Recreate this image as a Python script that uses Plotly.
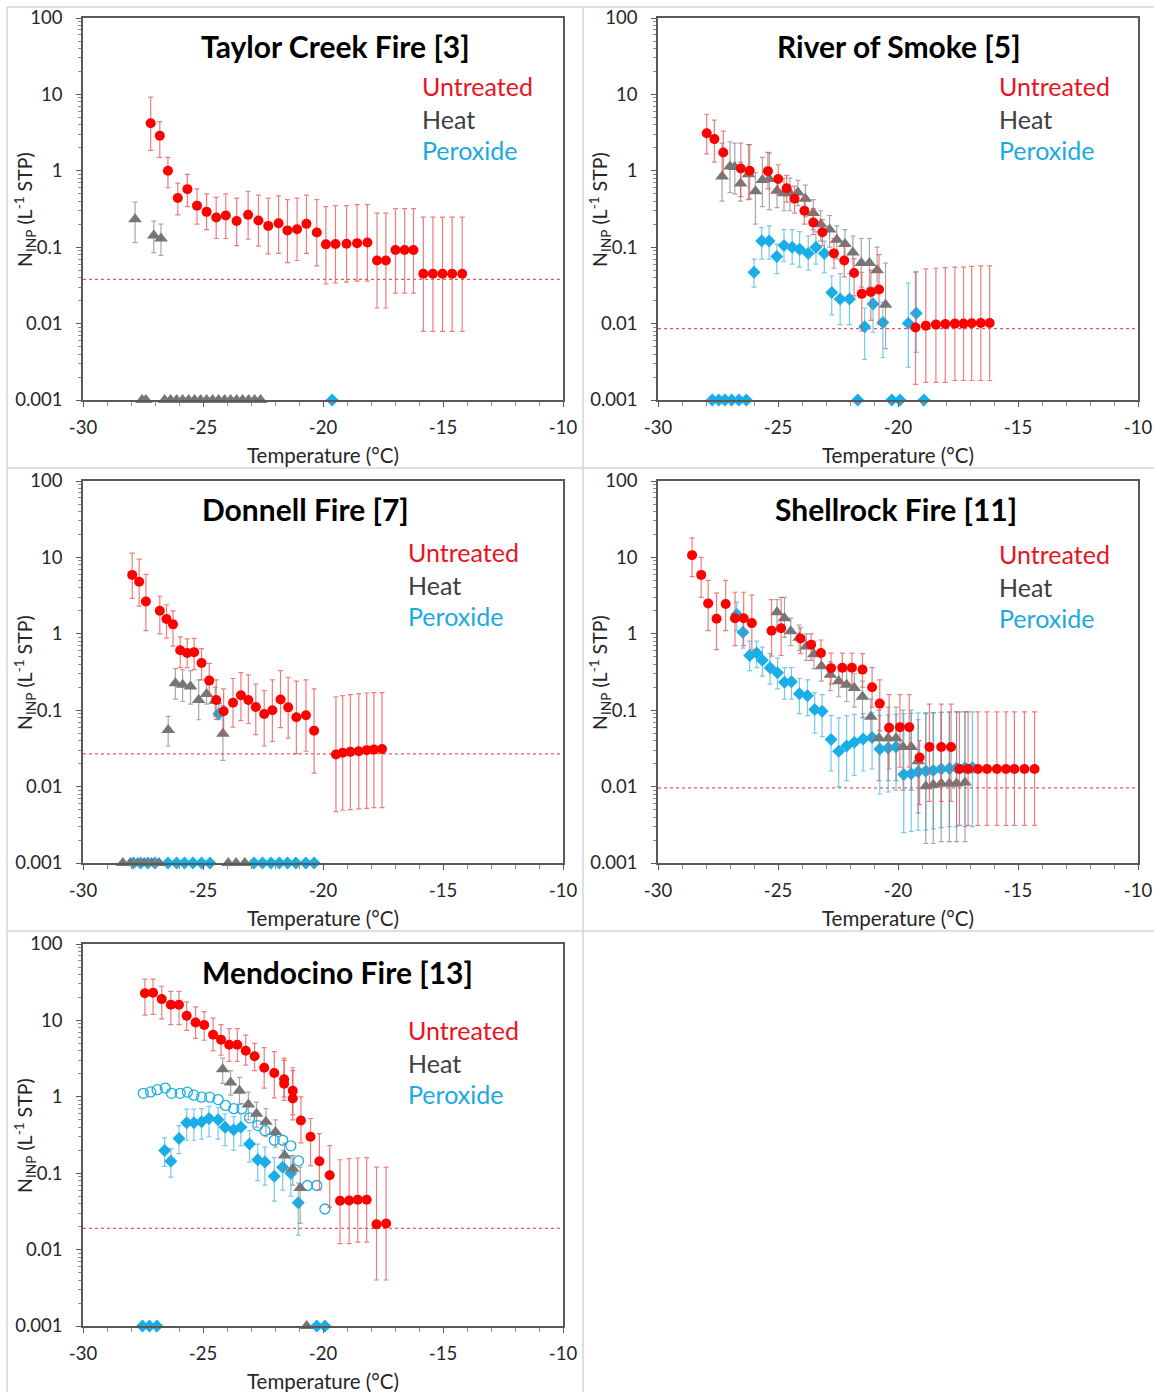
import plotly.graph_objects as go

# ---------------------------------------------------------------
# Ice-nucleating particle spectra, five fires
# N_INP (per standard litre) vs. temperature (deg C)
# ---------------------------------------------------------------

ND_LEVEL = 0.001          # non-detects plotted on the axis floor
X_MIN, X_MAX = -30, -10

# ---- Taylor Creek Fire [3] ----
tc_red_t = [-27.18, -26.8, -26.46, -26.05, -25.65, -25.25, -24.85, -24.45, -24.05, -23.6, -23.12,
            -22.69, -22.28, -21.85, -21.48, -21.08, -20.69, -20.26, -19.88, -19.48, -19.02, -18.58,
            -18.15, -17.75, -17.38, -16.98, -16.6, -16.23, -15.82, -15.42, -15.02, -14.62, -14.2]
tc_red_n = [4.2, 2.88, 1.0, 0.44, 0.575, 0.35, 0.29, 0.245, 0.26, 0.22, 0.265, 0.224, 0.19, 0.206,
            0.166, 0.172, 0.202, 0.156, 0.109, 0.11, 0.111, 0.113, 0.115, 0.067, 0.067, 0.092, 0.092,
            0.092, 0.045, 0.045, 0.045, 0.045, 0.045]
tc_red_hi = [9.2, 4.4, 1.5, 0.69, 0.9, 0.58, 0.5, 0.45, 0.5, 0.44, 0.54, 0.48, 0.44, 0.47, 0.42, 0.44,
             0.48, 0.42, 0.34, 0.35, 0.35, 0.36, 0.36, 0.28, 0.28, 0.32, 0.32, 0.32, 0.247, 0.247,
             0.247, 0.247, 0.247]
tc_red_lo = [1.85, 1.5, 0.6, 0.265, 0.34, 0.2, 0.17, 0.13, 0.13, 0.105, 0.127, 0.103, 0.082, 0.083,
             0.063, 0.067, 0.083, 0.057, 0.033, 0.034, 0.035, 0.036, 0.036, 0.016, 0.016, 0.025,
             0.025, 0.025, 0.0079, 0.0079, 0.0079, 0.0079, 0.0079]
tc_heat_t = [-27.83, -27.05, -26.75]
tc_heat_n = [0.233, 0.142, 0.13]
tc_heat_hi = [0.39, 0.22, 0.2]
tc_heat_lo = [0.115, 0.085, 0.078]
tc_heat_nd = [-27.54, -27.38, -26.6, -26.35, -26.1, -25.85, -25.6, -25.35, -25.1, -24.85, -24.6,
              -24.35, -24.1, -23.85, -23.6, -23.35, -23.1, -22.85, -22.6]
tc_perox_nd = [-19.62]
tc_limit = 0.038

# ---- River of Smoke [5] ----
rs_red_t = [-27.97, -27.65, -27.28, -26.55, -26.18, -25.42, -24.99, -24.64, -24.31, -23.9, -23.53,
            -23.15, -22.67, -22.24, -21.83, -21.51, -21.13, -20.79, -19.27, -18.84, -18.42, -18.03,
            -17.63, -17.27, -16.93, -16.55, -16.18]
rs_red_n = [3.1, 2.6, 1.74, 1.07, 1.0, 0.99, 0.78, 0.59, 0.43, 0.3, 0.21, 0.157, 0.083, 0.067, 0.046,
            0.0245, 0.026, 0.028, 0.0089, 0.0094, 0.0097, 0.0099, 0.01, 0.01, 0.0101, 0.0102, 0.0102]
rs_red_hi = [5.5, 4.6, 3.3, 2.3, 2.2, 1.74, 1.2, 0.87, 0.63, 0.46, 0.32, 0.23, 0.13, 0.106, 0.071,
             0.047, 0.05, 0.08, 0.047, 0.052, 0.053, 0.054, 0.055, 0.055, 0.056, 0.057, 0.057]
rs_red_lo = [1.67, 1.3, 0.85, 0.46, 0.43, 0.58, 0.5, 0.39, 0.28, 0.2, 0.146, 0.105, 0.053, 0.041,
             0.023, 0.008, 0.011, 0.0098, 0.0016, 0.0017, 0.0017, 0.0017, 0.0018, 0.0018, 0.0018,
             0.0018, 0.0018]
rs_heat_t = [-27.33, -27.0, -26.8, -26.56, -26.23, -25.94, -25.65, -25.36, -25.04, -24.75, -24.5,
             -24.17, -23.86, -23.53, -23.22, -22.85, -22.55, -22.21, -21.88, -21.53, -21.19, -20.87,
             -20.52]
rs_heat_n = [0.84, 1.14, 1.12, 0.68, 0.9, 0.54, 0.76, 0.78, 0.55, 0.51, 0.51, 0.52, 0.43, 0.28, 0.2,
             0.17, 0.125, 0.11, 0.085, 0.062, 0.062, 0.05, 0.0176]
rs_heat_hi = [2.3, 2.4, 2.3, 1.3, 2.2, 0.95, 1.5, 1.7, 0.86, 0.8, 0.8, 0.75, 0.65, 0.42, 0.3, 0.26,
              0.19, 0.17, 0.14, 0.13, 0.13, 0.1, 0.062]
rs_heat_lo = [0.4, 0.52, 0.5, 0.4, 0.42, 0.2, 0.34, 0.31, 0.33, 0.3, 0.3, 0.35, 0.25, 0.17, 0.12,
              0.1, 0.07, 0.06, 0.045, 0.03, 0.03, 0.025, 0.0047]
rs_perox_t = [-26.0, -25.68, -25.37, -25.05, -24.75, -24.41, -24.1, -23.74, -23.42, -23.07, -22.76,
              -22.41, -22.02, -21.39, -21.04, -20.63, -19.57, -19.24]
rs_perox_n = [0.047, 0.121, 0.121, 0.0755, 0.105, 0.1, 0.094, 0.083, 0.1, 0.083, 0.0255, 0.021,
              0.021, 0.0091, 0.018, 0.0103, 0.0101, 0.0137]
rs_perox_hi = [0.07, 0.18, 0.19, 0.11, 0.17, 0.17, 0.16, 0.14, 0.16, 0.12, 0.042, 0.045, 0.045,
               0.016, 0.03, 0.019, 0.034, 0.048]
rs_perox_lo = [0.03, 0.07, 0.07, 0.045, 0.065, 0.06, 0.055, 0.05, 0.06, 0.046, 0.013, 0.0097,
               0.0097, 0.0034, 0.0077, 0.0036, 0.0027, 0.0042]
rs_perox_nd = [-27.74, -27.47, -27.21, -26.93, -26.63, -26.32, -21.68, -20.26, -19.92, -18.92]
rs_limit = 0.0086

# ---- Donnell Fire [7] ----
dn_red_t = [-27.95, -27.66, -27.38, -26.8, -26.52, -26.25, -25.95, -25.66, -25.37, -25.06, -24.74,
            -24.45, -24.14, -23.75, -23.42, -23.11, -22.8, -22.45, -22.11, -21.77, -21.45, -21.11,
            -20.71, -20.37, -19.46, -19.18, -18.86, -18.51, -18.18, -17.88, -17.54]
dn_red_n = [5.9, 4.8, 2.65, 2.0, 1.56, 1.33, 0.61, 0.56, 0.575, 0.415, 0.244, 0.136, 0.097, 0.125,
            0.157, 0.136, 0.11, 0.089, 0.1, 0.138, 0.109, 0.081, 0.086, 0.054, 0.0263, 0.0277,
            0.0285, 0.029, 0.03, 0.0305, 0.031]
dn_red_hi = [11.4, 9.5, 6.0, 3.1, 2.4, 2.0, 0.91, 0.86, 0.87, 0.64, 0.41, 0.25, 0.19, 0.26, 0.31,
             0.29, 0.22, 0.18, 0.25, 0.33, 0.27, 0.24, 0.25, 0.19, 0.15, 0.155, 0.16, 0.165, 0.168,
             0.17, 0.17]
dn_red_lo = [2.9, 2.3, 1.1, 1.0, 0.88, 0.69, 0.36, 0.36, 0.34, 0.25, 0.16, 0.076, 0.05, 0.06, 0.073,
             0.067, 0.048, 0.034, 0.039, 0.059, 0.043, 0.027, 0.029, 0.015, 0.0047, 0.0049, 0.005,
             0.0051, 0.0052, 0.0053, 0.0053]
dn_heat_t = [-26.45, -26.15, -25.85, -25.52, -25.18, -24.85, -24.49, -24.17]
dn_heat_n = [0.055, 0.225, 0.215, 0.205, 0.136, 0.163, 0.133, 0.049]
dn_heat_hi = [0.083, 0.35, 0.34, 0.33, 0.25, 0.26, 0.2, 0.115]
dn_heat_lo = [0.034, 0.14, 0.13, 0.12, 0.075, 0.12, 0.083, 0.022]
dn_heat_nd = [-28.34, -28.03, -27.72, -27.45, -27.14, -26.83, -23.95, -23.62, -23.26]
dn_perox_t = [-24.34]
dn_perox_n = [0.09]
dn_perox_hi = [0.12]
dn_perox_lo = [0.075]
dn_perox_nd = [-27.9, -27.6, -27.3, -27.0, -26.46, -26.1, -25.77, -25.42, -25.06, -24.71, -22.88,
               -22.52, -22.17, -21.82, -21.48, -21.13, -20.72, -20.37]
dn_limit = 0.0268

# ---- Shellrock Fire [11] ----
sr_red_t = [-28.58, -28.2, -27.91, -27.56, -27.18, -26.79, -26.43, -26.09, -25.27, -24.87, -24.06,
            -23.62, -23.21, -22.79, -22.32, -21.92, -21.48, -21.08, -20.76, -20.37, -19.92, -19.53,
            -19.1, -18.69, -18.2, -17.79, -17.44, -17.08, -16.67, -16.29, -15.88, -15.5, -15.15,
            -14.73, -14.31]
sr_red_n = [10.7, 5.9, 2.5, 1.57, 2.45, 1.6, 1.6, 1.38, 1.1, 1.18, 0.87, 0.72, 0.56, 0.355, 0.36,
            0.36, 0.34, 0.2, 0.122, 0.059, 0.06, 0.06, 0.024, 0.033, 0.033, 0.033, 0.017, 0.017,
            0.017, 0.017, 0.017, 0.017, 0.017, 0.017, 0.017]
sr_red_hi = [18, 10, 5, 3.4, 5, 3.5, 3.5, 3.2, 2.8, 3.0, 1.2, 1.0, 0.83, 0.56, 0.56, 0.56, 0.55,
             0.36, 0.25, 0.16, 0.16, 0.16, 0.04, 0.12, 0.12, 0.12, 0.095, 0.095, 0.095, 0.095,
             0.095, 0.095, 0.095, 0.095, 0.095]
sr_red_lo = [5.6, 3.0, 1.1, 0.62, 1.1, 0.7, 0.7, 0.62, 0.51, 0.52, 0.55, 0.45, 0.38, 0.22, 0.22,
             0.22, 0.2, 0.11, 0.054, 0.017, 0.018, 0.018, 0.0058, 0.0064, 0.0064, 0.0064, 0.0031,
             0.0031, 0.0031, 0.0031, 0.0031, 0.0031, 0.0031, 0.0031, 0.0031]
sr_heat_t = [-25.04, -24.73, -24.47, -24.12, -23.82, -23.5, -23.19, -22.82, -22.47, -22.14, -21.82,
             -21.48, -21.13, -20.79, -20.41, -20.08, -19.79, -19.45, -19.16, -18.84, -18.53, -18.2,
             -17.86, -17.56, -17.21]
sr_heat_n = [1.92, 1.6, 1.08, 0.89, 0.68, 0.54, 0.377, 0.29, 0.24, 0.215, 0.195, 0.15, 0.082, 0.043,
             0.043, 0.043, 0.033, 0.033, 0.0215, 0.0101, 0.0106, 0.011, 0.011, 0.011, 0.0113]
sr_heat_hi = [2.8, 3.0, 1.6, 1.3, 1.0, 0.8, 0.55, 0.43, 0.37, 0.33, 0.3, 0.24, 0.14, 0.1, 0.11, 0.11,
              0.1, 0.1, 0.075, 0.09, 0.092, 0.094, 0.095, 0.095, 0.096]
sr_heat_lo = [1.1, 0.9, 0.7, 0.6, 0.45, 0.35, 0.24, 0.18, 0.15, 0.13, 0.11, 0.08, 0.04, 0.012, 0.012,
              0.012, 0.009, 0.009, 0.0045, 0.0018, 0.0018, 0.0019, 0.0019, 0.0019, 0.0019]
sr_perox_t = [-26.72, -26.46, -26.18, -25.89, -25.65, -25.33, -25.02, -24.73, -24.44, -24.11, -23.77,
              -23.47, -23.16, -22.79, -22.47, -22.14, -21.82, -21.45, -21.08, -20.76, -20.41, -20.08,
              -19.76, -19.45, -19.16, -18.84, -18.53, -18.2, -17.86, -17.56, -17.21, -16.9]
sr_perox_n = [1.79, 1.05, 0.52, 0.56, 0.45, 0.36, 0.31, 0.233, 0.235, 0.164, 0.155, 0.102, 0.097,
              0.0413, 0.029, 0.034, 0.038, 0.042, 0.044, 0.031, 0.032, 0.033, 0.0144, 0.0147, 0.0156,
              0.016, 0.0163, 0.017, 0.0172, 0.0175, 0.0177, 0.0177]
sr_perox_hi = [2.6, 1.6, 0.8, 0.8, 0.67, 0.55, 0.48, 0.36, 0.36, 0.26, 0.25, 0.17, 0.16, 0.085, 0.08,
               0.085, 0.088, 0.09, 0.092, 0.085, 0.086, 0.088, 0.09, 0.091, 0.092, 0.093, 0.093,
               0.094, 0.094, 0.095, 0.095, 0.095]
sr_perox_lo = [1.1, 0.65, 0.33, 0.36, 0.28, 0.22, 0.19, 0.14, 0.14, 0.09, 0.085, 0.05, 0.045, 0.016,
               0.01, 0.012, 0.014, 0.016, 0.017, 0.008, 0.0085, 0.009, 0.0025, 0.0026, 0.0027,
               0.0027, 0.0028, 0.0029, 0.003, 0.003, 0.003, 0.003]
sr_limit = 0.0096

# ---- Mendocino Fire [13] ----
mf_red_t = [-27.42, -27.08, -26.72, -26.34, -26.0, -25.68, -25.31, -24.95, -24.58, -24.25, -23.91,
            -23.57, -23.22, -22.85, -22.45, -22.03, -21.62, -21.62, -21.26, -21.26, -20.92, -20.52,
            -20.15, -19.72, -19.29, -18.91, -18.55, -18.18, -17.77, -17.37]
mf_red_n = [22.7, 23, 19, 16, 16, 11.5, 9.4, 8.7, 6.5, 5.6, 4.8, 4.8, 4.0, 3.4, 2.4, 2.05, 1.7, 1.48,
            1.2, 0.95, 0.49, 0.3, 0.143, 0.094, 0.0437, 0.044, 0.045, 0.045, 0.0214, 0.022]
mf_red_hi = [34.6, 34.6, 28, 24, 24, 17.5, 15, 13, 10.7, 8.8, 7.8, 7.8, 6.4, 5, 4.4, 3.9, 3.2, 3.0,
             2.4, 2.2, 1.0, 0.52, 0.33, 0.23, 0.15, 0.155, 0.158, 0.16, 0.12, 0.12]
mf_red_lo = [11.7, 12, 10.5, 8.8, 8.8, 7.4, 5.8, 5.5, 4, 3.5, 2.9, 2.9, 2.6, 2.2, 1.3, 0.97, 1.0, 0.9,
             0.58, 0.5, 0.25, 0.125, 0.06, 0.036, 0.012, 0.012, 0.0125, 0.0125, 0.004, 0.004]
mf_heat_t = [-24.18, -23.85, -23.48, -23.11, -22.77, -22.38, -21.98, -21.6, -21.26, -20.95]
mf_heat_n = [2.3, 1.54, 1.2, 0.79, 0.6, 0.47, 0.345, 0.17, 0.114, 0.064]
mf_heat_hi = [3.2, 2.2, 1.8, 1.15, 0.85, 0.7, 0.5, 0.25, 0.17, 0.12]
mf_heat_lo = [1.5, 1.05, 0.8, 0.5, 0.4, 0.3, 0.22, 0.11, 0.07, 0.022]
mf_heat_nd = [-20.68]
mf_perox_t = [-26.6, -26.34, -26.0, -25.68, -25.38, -25.06, -24.75, -24.37, -24.08, -23.72, -23.42,
              -23.06, -22.72, -22.42, -22.03, -21.68, -21.34, -21.03]
mf_perox_n = [0.198, 0.143, 0.285, 0.457, 0.457, 0.47, 0.52, 0.5, 0.4, 0.37, 0.4, 0.242, 0.15, 0.14,
              0.091, 0.12, 0.1, 0.041]
mf_perox_hi = [0.29, 0.21, 0.42, 0.69, 0.69, 0.7, 0.75, 0.73, 0.6, 0.55, 0.6, 0.36, 0.24, 0.22, 0.16,
               0.2, 0.17, 0.074]
mf_perox_lo = [0.123, 0.089, 0.18, 0.27, 0.27, 0.28, 0.3, 0.28, 0.23, 0.2, 0.23, 0.14, 0.08, 0.07,
               0.043, 0.06, 0.05, 0.0155]
mf_perox_nd = [-27.52, -27.23, -26.92, -20.26, -19.92]
mf_open_t = [-27.49, -27.18, -26.91, -26.57, -26.31, -25.95, -25.65, -25.38, -25.06, -24.72, -24.37,
             -24.06, -23.72, -23.38, -23.06, -22.72, -22.42, -22.03, -21.68, -21.34, -21.02, -20.65,
             -20.26, -19.92]
mf_open_n = [1.11, 1.16, 1.24, 1.3, 1.11, 1.11, 1.15, 1.05, 0.99, 0.99, 0.92, 0.77, 0.7, 0.7, 0.53,
             0.42, 0.36, 0.27, 0.27, 0.228, 0.145, 0.069, 0.069, 0.034]
mf_limit = 0.019

# ---- tick labels ----
x_tick_vals = [-30, -25, -20, -15, -10]
x_tick_text = ["-30", "-25", "-20", "-15", "-10"]
y_tick_vals = [0.001, 0.01, 0.1, 1, 10, 100]
y_tick_text = ["0.001", "0.01", "0.1", "1", "10", "100"]

# ---------------------------------------------------------------
# styling
# ---------------------------------------------------------------
FONT = "Lato, 'Open Sans', sans-serif"
RED, RED_ERR = "#ff0000", "rgba(235,80,80,0.75)"
GRAY, GRAY_ERR = "#767676", "rgba(130,130,130,0.7)"
BLUE, BLUE_ERR = "#1aaee8", "rgba(60,180,230,0.7)"
LEG_RED, LEG_GRAY, LEG_BLUE = "#e8141f", "#404040", "#1aa9e0"
SZ_CIRCLE, SZ_TRI, SZ_DIAM = 10, 12, 10

W, H = 1154, 1392


def px_x(v):
    return min(max(v / W, 0), 1)


def px_y(v):
    return min(max(1 - v / H, 0), 1)


# plot areas in pixels: (left, right, top, bottom)
cells = [
    (83, 563, 18, 400),
    (658, 1138, 18, 400),
    (83, 563, 481, 863),
    (658, 1138, 481, 863),
    (83, 563, 944, 1326),
]

panels = [
    dict(title="Taylor Creek Fire [3]", tx=0.527,
         red=(tc_red_t, tc_red_n, tc_red_hi, tc_red_lo),
         heat=(tc_heat_t, tc_heat_n, tc_heat_hi, tc_heat_lo), heat_nd=tc_heat_nd,
         perox=None, perox_nd=tc_perox_nd, limit=tc_limit, lx=0.702, ly=(0.822, 0.736, 0.654)),
    dict(title="River of Smoke [5]", tx=0.502,
         red=(rs_red_t, rs_red_n, rs_red_hi, rs_red_lo),
         heat=(rs_heat_t, rs_heat_n, rs_heat_hi, rs_heat_lo), heat_nd=[],
         perox=(rs_perox_t, rs_perox_n, rs_perox_hi, rs_perox_lo), perox_nd=rs_perox_nd,
         limit=rs_limit, lx=0.706, ly=(0.822, 0.736, 0.654)),
    dict(title="Donnell Fire [7]", tx=0.4625,
         red=(dn_red_t, dn_red_n, dn_red_hi, dn_red_lo),
         heat=(dn_heat_t, dn_heat_n, dn_heat_hi, dn_heat_lo), heat_nd=dn_heat_nd,
         perox=(dn_perox_t, dn_perox_n, dn_perox_hi, dn_perox_lo), perox_nd=dn_perox_nd,
         limit=dn_limit, lx=0.673, ly=(0.814, 0.728, 0.647)),
    dict(title="Shellrock Fire [11]", tx=0.496,
         red=(sr_red_t, sr_red_n, sr_red_hi, sr_red_lo),
         heat=(sr_heat_t, sr_heat_n, sr_heat_hi, sr_heat_lo), heat_nd=[],
         perox=(sr_perox_t, sr_perox_n, sr_perox_hi, sr_perox_lo), perox_nd=[],
         limit=sr_limit, lx=0.706, ly=(0.809, 0.723, 0.641)),
    dict(title="Mendocino Fire [13]", tx=0.531,
         red=(mf_red_t, mf_red_n, mf_red_hi, mf_red_lo),
         heat=(mf_heat_t, mf_heat_n, mf_heat_hi, mf_heat_lo), heat_nd=mf_heat_nd,
         perox=(mf_perox_t, mf_perox_n, mf_perox_hi, mf_perox_lo), perox_nd=mf_perox_nd,
         limit=mf_limit, lx=0.673, ly=(0.775, 0.689, 0.607),
         open=(mf_open_t, mf_open_n)),
]

minor_x = [v for v in range(-29, -10) if v % 5 != 0]
minor_y = [k * 10.0 ** d for d in range(-3, 2) for k in range(2, 10)]

fig = go.Figure()
layout = dict(
    width=W, height=H, margin=dict(l=0, r=0, t=0, b=0, autoexpand=False),
    paper_bgcolor="white", plot_bgcolor="white", showlegend=False,
    font=dict(family=FONT, color="#262626"),
)
annotations = []
shapes = []


def err_trace(t, n, hi, lo, sym, size, color, ecolor, xa, ya, layer_width=1.2):
    return go.Scatter(
        x=t, y=n, mode="markers", xaxis=xa, yaxis=ya, cliponaxis=False,
        marker=dict(symbol=sym, size=size, color=color, line=dict(width=0)),
        error_y=dict(type="data", symmetric=False,
                     array=[h - v for h, v in zip(hi, n)],
                     arrayminus=[v - l for v, l in zip(n, lo)],
                     color=ecolor, thickness=layer_width, width=2.5),
        hoverinfo="x+y",
    )


for i, (p, cell) in enumerate(zip(panels, cells)):
    k = "" if i == 0 else str(i + 1)
    xa, ya = "x" + k, "y" + k
    left, right, top, bottom = cell
    layout["xaxis" + k] = dict(
        domain=[px_x(left), px_x(right)], anchor=ya, range=[X_MIN, X_MAX], automargin=False,
        tickmode="array", tickvals=x_tick_vals, ticktext=x_tick_text,
        ticks="outside", ticklen=5, tickcolor="#595959", tickwidth=1,
        minor=dict(tickvals=minor_x, ticks="outside", ticklen=4, tickcolor="#8c8c8c"),
        showline=True, mirror=True, linecolor="#595959", linewidth=1.5,
        showgrid=False, zeroline=False, ticklabelstandoff=5,
        tickfont=dict(family=FONT, size=18.5, color="#262626"),
    )
    layout["yaxis" + k] = dict(
        domain=[px_y(bottom), px_y(top)], anchor=xa, type="log", range=[-3, 2], automargin=False,
        tickmode="array", tickvals=y_tick_vals, ticktext=y_tick_text,
        ticks="outside", ticklen=5, tickcolor="#595959", tickwidth=1,
        minor=dict(tickvals=minor_y, ticks="outside", ticklen=3, tickcolor="#8c8c8c"),
        showline=True, mirror=True, linecolor="#595959", linewidth=1.5,
        showgrid=False, zeroline=False, ticklabelstandoff=10,
        tickfont=dict(family=FONT, size=18.5, color="#262626"),
    )

    # detection limit (dotted)
    fig.add_trace(go.Scatter(
        x=[X_MIN, X_MAX], y=[p["limit"], p["limit"]], mode="lines", xaxis=xa, yaxis=ya,
        line=dict(color="rgba(230,60,60,0.85)", width=1.3, dash="dot"), hoverinfo="skip"))

    # non-detects on the floor
    if p["perox_nd"]:
        fig.add_trace(go.Scatter(
            x=p["perox_nd"], y=[ND_LEVEL] * len(p["perox_nd"]), mode="markers",
            xaxis=xa, yaxis=ya, cliponaxis=False,
            marker=dict(symbol="diamond", size=SZ_DIAM, color=BLUE)))
    if p["heat_nd"]:
        fig.add_trace(go.Scatter(
            x=p["heat_nd"], y=[ND_LEVEL] * len(p["heat_nd"]), mode="markers",
            xaxis=xa, yaxis=ya, cliponaxis=False,
            marker=dict(symbol="triangle-up", size=SZ_TRI, color=GRAY)))

    if "open" in p:
        ot, on = p["open"]
        fig.add_trace(go.Scatter(
            x=ot, y=on, mode="markers", xaxis=xa, yaxis=ya, cliponaxis=False,
            marker=dict(symbol="circle-open", size=SZ_CIRCLE, color=BLUE, line=dict(width=1.3))))

    if p["perox"]:
        fig.add_trace(err_trace(*p["perox"], "diamond", SZ_DIAM, BLUE, BLUE_ERR, xa, ya))
    fig.add_trace(err_trace(*p["heat"], "triangle-up", SZ_TRI, GRAY, GRAY_ERR, xa, ya))
    fig.add_trace(err_trace(*p["red"], "circle", SZ_CIRCLE, RED, RED_ERR, xa, ya))

    xd, yd = xa + " domain", ya + " domain"
    annotations.append(dict(
        text="<b>" + p["title"] + "</b>", xref=xd, yref=yd, x=p["tx"], y=0.927,
        xanchor="center", yanchor="middle", showarrow=False,
        font=dict(family=FONT, size=30, color="#000000")))
    for txt, col, yy in zip(["Untreated", "Heat", "Peroxide"],
                            [LEG_RED, LEG_GRAY, LEG_BLUE], p["ly"]):
        annotations.append(dict(
            text=txt, xref=xd, yref=yd, x=p["lx"], y=yy, xanchor="left", yanchor="middle",
            showarrow=False, font=dict(family=FONT, size=25, color=col)))
    annotations.append(dict(
        text="Temperature (°C)", xref=xd, yref=yd, x=0.5, y=-0.144,
        xanchor="center", yanchor="middle", showarrow=False,
        font=dict(family=FONT, size=20.5, color="#262626")))
    annotations.append(dict(
        text="N<sub>INP</sub> (L<sup>-1</sup> STP)", xref=xd, yref=yd, x=-0.121, y=0.5,
        xanchor="center", yanchor="middle", textangle=-90, showarrow=False,
        font=dict(family=FONT, size=19.5, color="#262626")))

# light panel separators
sep = dict(type="line", xref="paper", yref="paper", line=dict(color="#d4d4d4", width=1.5))
shapes.append(dict(sep, x0=px_x(7), x1=px_x(7), y0=px_y(7), y1=0))
shapes.append(dict(sep, x0=px_x(583), x1=px_x(583), y0=px_y(7), y1=0))
shapes.append(dict(sep, x0=px_x(7), x1=1, y0=px_y(7), y1=px_y(7)))
shapes.append(dict(sep, x0=px_x(7), x1=1, y0=px_y(468), y1=px_y(468)))
shapes.append(dict(sep, x0=px_x(7), x1=1, y0=px_y(931), y1=px_y(931)))

layout["annotations"] = annotations
layout["shapes"] = shapes
fig.update_layout(**layout)
fig.write_html("out.html")
